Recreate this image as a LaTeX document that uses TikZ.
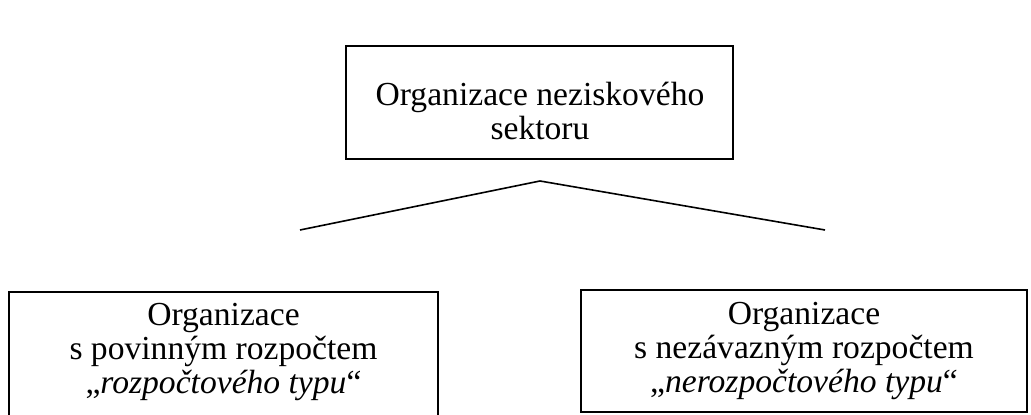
\documentclass[tikz,border=0pt]{standalone}
\usepackage{fontspec}
\setmainfont{Liberation Serif}
\begin{document}
\begin{tikzpicture}[x=0.375pt,y=-0.375pt,
    label/.style={align=center,inner sep=0pt,font=\fontsize{12.6pt}{12.9pt}\selectfont}]
                \useasboundingbox (0,0) rectangle (1031,415);

                \coordinate (T1) at (346,46);
                \coordinate (T2) at (733,159);
                \coordinate (L1) at (9,292);
                \coordinate (L2) at (438,417);
                \coordinate (R1) at (581,290);
                \coordinate (R2) at (1027,412);

                \draw[line width=0.8pt] (T1) rectangle (T2);
                \draw[line width=0.7pt] (L1) rectangle (L2);
                \draw[line width=0.7pt] (R1) rectangle (R2);

                \coordinate (apex) at (540,181);
                \coordinate (leftend) at (300,230);
                \coordinate (rightend) at (825,230);
                \draw[line width=0.6pt] (leftend) -- (apex) -- (rightend);

                \node[label] (sector) at (540,111) {Organizace neziskového\\sektoru};
                \node[label] (budget) at (223.5,352) {Organizace\\s povinným rozpočtem\\„\textit{rozpočtového typu}“};
                \node[label] (nonbudget) at (804,351) {Organizace\\s nezávazným rozpočtem\\„\textit{nerozpočtového typu}“};
            \end{tikzpicture}
\end{document}
